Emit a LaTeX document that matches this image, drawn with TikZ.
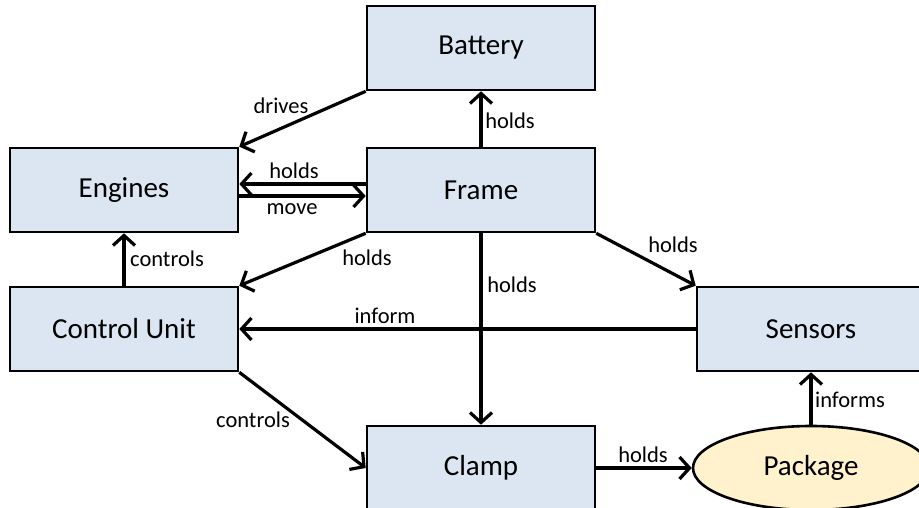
\documentclass[tikz,border=0pt]{standalone}
\usepackage{fontspec}
\setmainfont{Carlito}
\usetikzlibrary{arrows.meta,shapes.geometric}
\definecolor{boxfill}{HTML}{DCE6F2}
\definecolor{pkgfill}{HTML}{FFF2CC}
\tikzset{
  box/.style={draw=black, line width=2.6pt, fill=boxfill, rectangle, minimum width=228pt, minimum height=84pt, inner sep=0pt, font=\fontsize{29}{33}\selectfont},
  pkg/.style={draw=black, line width=2.6pt, fill=pkgfill, ellipse, minimum width=236pt, minimum height=84pt, inner sep=0pt, font=\fontsize{29}{33}\selectfont},
  conn/.style={line width=3.2pt, -{Straight Barb[length=10pt,width=22pt]}},
  lbl/.style={font=\fontsize{22.5}{26}\selectfont, inner sep=0pt}
}
\begin{document}
\begin{tikzpicture}[x=1pt,y=-1pt]
\clip (0,0) rectangle (919,508);
\node[box] (bat) at (481,48) {Battery};
\node[box] (eng) at (124,190) {Engines};
\node[box] (frm) at (481,190) {Frame};
\node[box] (cu) at (124,329) {Control Unit};
\node[box] (sen) at (811,329) {Sensors};
\node[box] (clp) at (481,468) {Clamp};
\node[pkg] (pkg) at (811,468) {Package};

\draw[conn] (bat.south west) -- (eng.north east) node[lbl] at (281,106) {drives};
\draw[conn] (frm.west |- 0,184) -- (eng.east |- 0,184) node[lbl] at (294,171) {holds};
\draw[conn] (eng.east |- 0,196) -- (frm.west |- 0,196) node[lbl] at (292,209) {move};
\draw[conn] (frm.north) -- (bat.south) node[lbl] at (510,121) {holds};
\draw[conn] (frm.south west) -- (cu.north east) node[lbl] at (367,258) {holds};
\draw[conn] (frm.south east) -- (sen.north west) node[lbl] at (673,245) {holds};
\draw[conn] (frm.south) -- (clp.north) node[lbl] at (512,285) {holds};
\draw[conn] (cu.north) -- (eng.south) node[lbl] at (167,259) {controls};
\draw[conn] (sen.west) -- (cu.east) node[lbl] at (385,316) {inform};
\draw[conn] (cu.south east) -- (clp.west) node[lbl] at (253,420) {controls};
\draw[conn] (clp.east) -- (pkg.west) node[lbl] at (643,455) {holds};
\draw[conn] (pkg.north) -- (sen.south) node[lbl] at (850,400) {informs};
\end{tikzpicture}
\end{document}
